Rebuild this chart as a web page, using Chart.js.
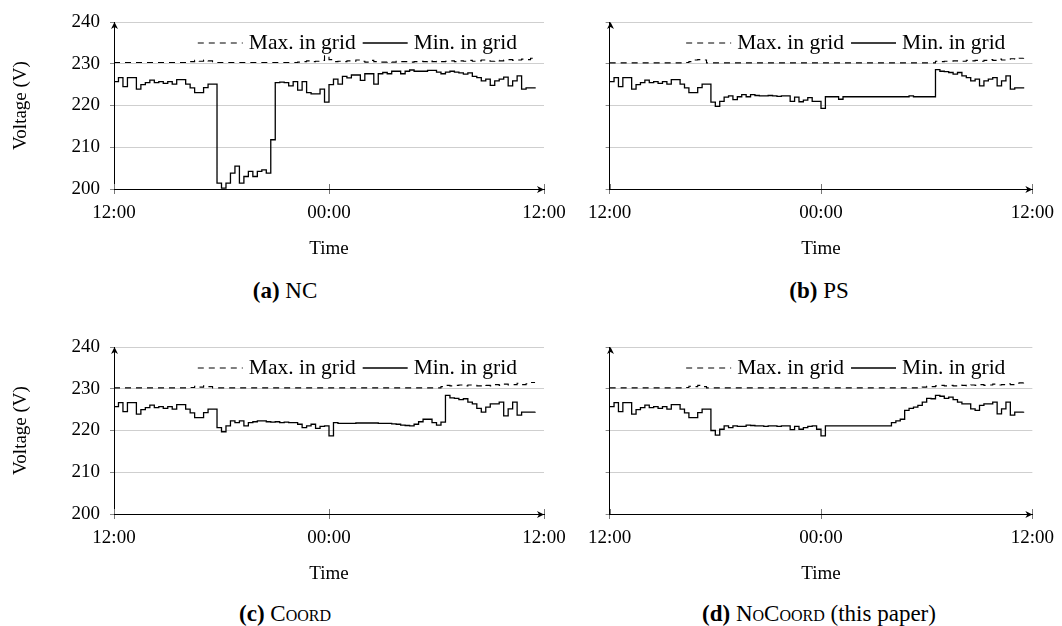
<!DOCTYPE html>
<html>
<head>
<meta charset="utf-8">
<script src="https://cdn.jsdelivr.net/npm/chart.js@4.4.0/dist/chart.umd.min.js"></script>
<style>
  html, body { margin: 0; padding: 0; background: #fff; }
  #page { position: relative; width: 1062px; height: 626px; overflow: hidden; font-family: "Liberation Serif", serif; color: #000; }
  #page canvas { position: absolute; }
  .caption { position: absolute; transform: translate(-50%, -50%); font-size: 23px; white-space: nowrap; }
  .sc { font-variant: small-caps; }
</style>
</head>
<body>
<div id="page">
  <canvas id="chartNC" width="580" height="262" style="left:0;top:0"></canvas>
  <canvas id="chartPS" width="482" height="262" style="left:580px;top:0"></canvas>
  <canvas id="chartCOORD" width="580" height="262" style="left:0;top:325px"></canvas>
  <canvas id="chartNOCOORD" width="482" height="262" style="left:580px;top:325px"></canvas>
  <div class="caption" style="left:285px;top:291px"><b>(a)</b> NC</div>
  <div class="caption" style="left:819px;top:291px"><b>(b)</b> PS</div>
  <div class="caption" style="left:285px;top:614px"><b>(c)</b> <span class="sc">Coord</span></div>
  <div class="caption" style="left:819px;top:614px"><b>(d)</b> <span class="sc">NoCoord</span> (this paper)</div>
</div>
<script>
// 15-minute samples, hours after 12:00
const hours = Array.from({ length: 95 }, (_, i) => i * 0.25);
const tickHours = [0, 12, 24];
const tickLabels = ['12:00', '00:00', '12:00'];
const voltTicks = [200, 210, 220, 230, 240];

// (a) NC
const minNC = [
  225.7, 226.7, 224.5, 226.7, 226.7, 223.9, 225.0, 225.5, 226.1, 225.5,
  225.7, 225.3, 225.7, 225.1, 226.2, 226.2, 225.1, 224.2, 223.1, 223.1,
  224.3, 225.1, 225.1, 201.4, 200.2, 201.4, 203.8, 205.5, 201.4, 203.0,
  204.2, 203.0, 204.2, 204.6, 203.8, 211.8, 225.5, 225.6, 225.5, 224.7,
  225.7, 223.7, 225.7, 223.1, 222.8, 222.8, 223.9, 220.8, 225.0, 226.3,
  225.1, 227.0, 226.6, 227.3, 227.3, 226.0, 227.6, 227.6, 225.1, 227.6,
  227.9, 227.6, 228.2, 228.2, 227.6, 228.2, 228.5, 228.2, 228.2, 228.2,
  228.4, 228.4, 228.0, 227.6, 228.0, 228.2, 228.0, 227.8, 227.5, 227.8,
  227.0, 226.7, 225.9, 226.3, 224.8, 225.9, 226.3, 226.8, 224.7, 225.9,
  227.1, 223.9, 224.2, 224.2, 224.4
];
const maxNC = [
  230.3, 230.3, 230.3, 230.3, 230.3, 230.3, 230.3, 230.3, 230.3, 230.3,
  230.3, 230.3, 230.3, 230.3, 230.3, 230.3, 230.3, 230.5, 230.8, 230.6,
  230.9, 230.7, 230.3, 230.3, 230.3, 230.3, 230.3, 230.3, 230.3, 230.3,
  230.3, 230.3, 230.3, 230.3, 230.3, 230.3, 230.3, 230.3, 230.3, 230.3,
  230.3, 230.4, 230.5, 230.7, 230.5, 230.6, 230.8, 231.9, 231.0, 230.5,
  230.6, 230.5, 230.7, 230.6, 230.9, 230.6, 230.4, 230.8, 230.5, 230.4,
  230.4, 230.5, 230.4, 230.6, 230.5, 230.5, 230.4, 230.5, 230.6, 230.5,
  230.7, 230.5, 230.6, 230.5, 230.6, 230.7, 230.5, 230.7, 230.6, 230.8,
  230.6, 230.7, 230.9, 230.7, 230.6, 230.8, 230.7, 230.9, 231.0, 230.8,
  230.9, 231.1, 231.0, 231.3, 231.4
];

// (b) PS
const minPS = [
  225.7, 226.7, 224.5, 226.7, 226.7, 223.9, 225.0, 225.5, 226.1, 225.5,
  225.7, 225.3, 225.7, 225.1, 226.2, 226.2, 225.1, 224.2, 223.1, 223.1,
  224.3, 225.1, 225.1, 220.8, 219.8, 221.0, 222.0, 222.3, 221.4, 222.1,
  222.6, 222.1, 222.6, 222.4, 222.3, 222.3, 222.4, 222.3, 222.2, 222.3,
  222.3, 221.0, 222.0, 220.9, 221.3, 221.9, 221.0, 221.0, 219.3, 222.1,
  222.1, 222.1, 221.5, 222.1, 222.1, 222.1, 222.1, 222.1, 222.1, 222.1,
  222.1, 222.1, 222.1, 222.1, 222.1, 222.1, 222.1, 222.1, 222.3, 222.1,
  222.1, 222.1, 222.1, 222.1, 228.6, 228.2, 228.1, 227.9, 227.5, 227.9,
  227.1, 226.7, 225.9, 226.3, 224.7, 225.9, 226.3, 226.7, 224.7, 225.9,
  227.1, 223.9, 224.2, 224.2, 224.4
];
const maxPS = [
  230.2, 230.2, 230.2, 230.2, 230.2, 230.2, 230.2, 230.2, 230.2, 230.2,
  230.2, 230.2, 230.2, 230.2, 230.2, 230.2, 230.2, 230.3, 230.5, 230.9,
  231.0, 230.9, 230.2, 230.2, 230.2, 230.2, 230.2, 230.2, 230.2, 230.2,
  230.2, 230.2, 230.2, 230.2, 230.2, 230.2, 230.2, 230.2, 230.2, 230.2,
  230.2, 230.2, 230.2, 230.2, 230.2, 230.2, 230.2, 230.2, 230.2, 230.2,
  230.2, 230.2, 230.2, 230.2, 230.2, 230.2, 230.2, 230.2, 230.2, 230.2,
  230.2, 230.2, 230.2, 230.2, 230.2, 230.2, 230.2, 230.2, 230.2, 230.2,
  230.2, 230.2, 230.2, 230.2, 230.6, 230.5, 230.6, 230.6, 230.7, 230.6,
  230.6, 230.8, 230.7, 230.8, 230.6, 230.8, 231.0, 230.8, 231.1, 230.9,
  230.9, 231.2, 231.1, 231.3, 231.4
];

// (c) COORD
const minCOORD = [
  225.7, 226.7, 224.5, 226.7, 226.7, 223.9, 225.0, 225.5, 226.1, 225.5,
  225.7, 225.3, 225.7, 225.1, 226.2, 226.2, 225.1, 224.2, 223.1, 223.1,
  224.3, 225.1, 225.1, 220.7, 219.7, 221.1, 222.3, 221.9, 222.3, 221.1,
  221.9, 222.1, 222.3, 222.3, 222.1, 222.0, 222.1, 221.9, 222.0, 221.9,
  221.9, 221.5, 220.7, 221.1, 221.5, 220.5, 221.0, 221.1, 218.7, 221.9,
  221.7, 221.7, 221.7, 221.7, 221.8, 221.8, 221.8, 221.8, 221.8, 221.7,
  221.7, 221.7, 221.6, 221.5, 221.3, 221.2, 221.1, 221.5, 222.1, 222.7,
  222.7, 221.9, 221.3, 222.0, 228.4, 227.8, 227.7, 227.4, 227.6, 226.8,
  226.4, 225.3, 224.4, 225.6, 226.4, 226.4, 226.8, 223.5, 225.2, 226.8,
  223.7, 224.4, 224.4, 224.4, 224.5
];
const maxCOORD = [
  230.2, 230.2, 230.2, 230.2, 230.2, 230.2, 230.2, 230.2, 230.2, 230.2,
  230.2, 230.2, 230.2, 230.2, 230.2, 230.2, 230.2, 230.3, 230.6, 230.4,
  230.7, 230.5, 230.2, 230.2, 230.2, 230.2, 230.2, 230.2, 230.2, 230.2,
  230.2, 230.2, 230.2, 230.2, 230.2, 230.2, 230.2, 230.2, 230.2, 230.2,
  230.2, 230.2, 230.2, 230.2, 230.2, 230.2, 230.2, 230.2, 230.2, 230.2,
  230.2, 230.2, 230.2, 230.2, 230.2, 230.2, 230.2, 230.2, 230.2, 230.2,
  230.2, 230.2, 230.2, 230.2, 230.2, 230.2, 230.2, 230.2, 230.2, 230.2,
  230.2, 230.2, 230.2, 230.5, 230.8, 230.7, 230.8, 230.9, 230.7, 230.9,
  230.8, 230.7, 230.9, 230.8, 230.7, 231.0, 230.8, 231.1, 230.9, 231.0,
  231.3, 231.0, 231.2, 231.5, 231.5
];

// (d) NOCOORD
const minNOCOORD = [
  225.7, 226.7, 224.5, 226.7, 226.7, 223.9, 225.0, 225.5, 226.1, 225.5,
  225.7, 225.3, 225.7, 225.1, 226.2, 226.2, 225.1, 224.2, 223.1, 223.1,
  224.3, 225.1, 225.1, 220.0, 218.9, 220.3, 221.1, 220.7, 221.1, 221.0,
  221.0, 221.3, 221.2, 221.1, 221.1, 221.0, 221.1, 221.1, 221.0, 221.1,
  221.1, 220.2, 221.0, 220.3, 220.7, 221.0, 221.1, 220.3, 218.7, 221.1,
  221.1, 221.1, 221.1, 221.1, 221.1, 221.1, 221.1, 221.1, 221.1, 221.1,
  221.1, 221.1, 221.1, 221.1, 221.9, 222.3, 222.7, 224.8, 225.3, 225.6,
  226.0, 226.8, 227.7, 227.6, 228.4, 228.2, 227.7, 228.0, 227.4, 226.8,
  226.4, 226.4, 225.2, 224.8, 226.0, 226.4, 226.4, 226.8, 224.0, 225.2,
  226.8, 223.7, 224.4, 224.4, 224.5
];
const maxNOCOORD = [
  230.2, 230.2, 230.2, 230.2, 230.2, 230.2, 230.2, 230.2, 230.2, 230.2,
  230.2, 230.2, 230.2, 230.2, 230.2, 230.2, 230.2, 230.3, 230.6, 230.5,
  230.8, 230.5, 230.2, 230.2, 230.2, 230.2, 230.2, 230.2, 230.2, 230.2,
  230.2, 230.2, 230.2, 230.2, 230.2, 230.2, 230.2, 230.2, 230.2, 230.2,
  230.2, 230.2, 230.2, 230.2, 230.2, 230.2, 230.2, 230.2, 230.2, 230.2,
  230.2, 230.2, 230.2, 230.2, 230.2, 230.2, 230.2, 230.2, 230.2, 230.2,
  230.2, 230.2, 230.2, 230.2, 230.2, 230.2, 230.2, 230.2, 230.2, 230.2,
  230.3, 230.4, 230.6, 230.5, 230.7, 230.8, 230.7, 230.8, 230.7, 230.9,
  230.8, 230.7, 230.9, 230.8, 231.0, 230.8, 230.9, 231.1, 230.9, 231.0,
  231.2, 231.0, 231.3, 231.4, 231.5
];

const FONT = '"Liberation Serif", serif';
Chart.defaults.font.family = FONT;
Chart.defaults.color = '#000';

// legend drawn inside the plot, top right, like the pgfplots one
const insideLegend = {
  id: 'insideLegend',
  afterDatasetsDraw(chart) {
    const { ctx, chartArea } = chart;
    const y = chartArea.top + 21;
    let x = chartArea.right - 27;
    ctx.save();
    ctx.font = '21.5px ' + FONT;
    ctx.textBaseline = 'middle';
    ctx.fillStyle = '#000';
    ctx.strokeStyle = '#000';
    chart.data.datasets.slice().reverse().forEach(ds => {
      x -= ctx.measureText(ds.label).width;
      ctx.fillText(ds.label, x, y);
      x -= 6;
      ctx.beginPath();
      ctx.lineWidth = ds.borderWidth;
      ctx.setLineDash(ds.borderDash || []);
      ctx.moveTo(x - 45, y);
      ctx.lineTo(x, y);
      ctx.stroke();
      x -= 45 + 7;
    });
    ctx.restore();
  }
};

// arrow heads on both axes + tick marks above the time axis
const axisArrows = {
  id: 'axisArrows',
  afterDraw(chart) {
    const { ctx, chartArea: a, scales } = chart;
    ctx.save();
    ctx.strokeStyle = '#777';
    ctx.lineWidth = 1;
    scales.x.ticks.forEach(t => {
      const px = Math.round(scales.x.getPixelForValue(t.value)) + 0.5;
      ctx.beginPath();
      ctx.moveTo(px, a.bottom - 5);
      ctx.lineTo(px, a.bottom);
      ctx.stroke();
    });
    ctx.fillStyle = '#000';
    const yx = Math.round(a.left) + 0.5;
    ctx.beginPath();
    ctx.moveTo(yx, a.top);
    ctx.lineTo(yx - 3.5, a.top + 7);
    ctx.lineTo(yx, a.top + 5);
    ctx.lineTo(yx + 3.5, a.top + 7);
    ctx.closePath();
    ctx.fill();
    const xy = Math.round(a.bottom) + 0.5;
    ctx.beginPath();
    ctx.moveTo(a.right, xy);
    ctx.lineTo(a.right - 7, xy - 3.5);
    ctx.lineTo(a.right - 5, xy);
    ctx.lineTo(a.right - 7, xy + 3.5);
    ctx.closePath();
    ctx.fill();
    ctx.restore();
  }
};

const makePanel = (id, minValues, maxValues, withYLabels) => {
  const yWidth = withYLabels ? 114 : 28;
  const rightPad = withYLabels ? 36 : 23;
  return new Chart(document.getElementById(id), {
    type: 'line',
    data: {
      labels: hours,
      datasets: [
        { label: 'Max. in grid', data: maxValues, borderColor: '#000', borderWidth: 1.1, borderDash: [6, 5], stepped: true, pointRadius: 0, fill: false },
        { label: 'Min. in grid', data: minValues, borderColor: '#000', borderWidth: 1.3, stepped: true, pointRadius: 0, fill: false }
      ]
    },
    options: {
      responsive: false,
      animation: false,
      events: [],
      layout: { padding: { top: 22, right: rightPad, left: 0, bottom: 0 } },
      plugins: { legend: { display: false }, tooltip: { enabled: false } },
      scales: {
        x: {
          type: 'linear', min: 0, max: 24,
          afterBuildTicks: s => { s.ticks = tickHours.map(v => ({ value: v })); },
          afterFit: s => { s.height = 73; },
          ticks: { callback: (v, i) => tickLabels[i], font: { size: 19 }, color: '#000', padding: 8, maxRotation: 0, autoSkip: false },
          grid: { drawOnChartArea: false, tickLength: 5, tickColor: '#777' },
          border: { color: '#000', width: 1 },
          title: { display: true, text: 'Time', font: { size: 19 }, color: '#000', padding: { top: 0, bottom: 2 } }
        },
        y: {
          min: 200, max: 240,
          afterBuildTicks: s => { s.ticks = voltTicks.map(v => ({ value: v })); },
          afterFit: s => { s.width = yWidth; },
          ticks: { display: withYLabels, font: { size: 19 }, color: '#000', padding: 10 },
          grid: { color: '#cfcfcf', tickColor: '#888', tickLength: 4 },
          border: { color: '#000', width: 1 },
          title: { display: withYLabels, text: 'Voltage (V)', font: { size: 19 }, color: '#000', padding: { top: 10, bottom: 0 } }
        }
      }
    },
    plugins: [insideLegend, axisArrows]
  });
};

makePanel('chartNC', minNC, maxNC, true);
makePanel('chartPS', minPS, maxPS, false);
makePanel('chartCOORD', minCOORD, maxCOORD, true);
makePanel('chartNOCOORD', minNOCOORD, maxNOCOORD, false);
</script>
</body>
</html>
